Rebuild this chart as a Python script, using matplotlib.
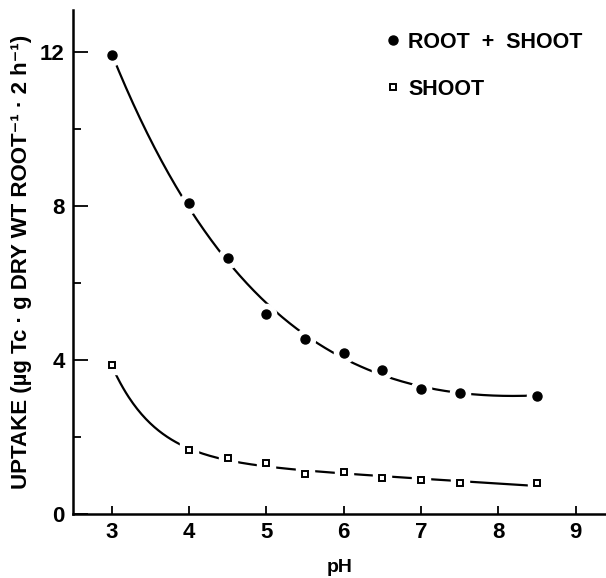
"""pH dependence of Tc uptake: root+shoot vs shoot."""

import matplotlib
matplotlib.use("Agg")
import matplotlib.pyplot as plt
from matplotlib.lines import Line2D
import numpy as np

ph = [3, 4, 4.5, 5, 5.5, 6, 6.5, 7, 7.5, 8.5]
root_shoot = [11.92, 8.09, 6.64, 5.2, 4.55, 4.19, 3.75, 3.25, 3.13, 3.07]
shoot = [3.86, 1.65, 1.45, 1.33, 1.05, 1.10, 0.94, 0.88, 0.80, 0.80]

x_ticks = [3, 4, 5, 6, 7, 8, 9]
y_ticks = [0, 4, 8, 12]
y_minor = [2, 6, 10]


def smooth_fit(x, y):
    # y = a + b*exp(-k*(x-3)) + c*(x-3); k by grid search, rest least squares
    x = np.asarray(x, float)
    y = np.asarray(y, float)
    best = None
    for k in np.linspace(0.1, 4, 400):
        A = np.column_stack([np.ones_like(x), np.exp(-k * (x - 3)), x - 3])
        coef, *_ = np.linalg.lstsq(A, y, rcond=None)
        err = np.sum((A @ coef - y) ** 2)
        if best is None or err < best[0]:
            best = (err, k, coef)
    _, k, (a, b, c) = best
    xs = np.linspace(x.min(), x.max(), 300)
    return xs, a + b * np.exp(-k * (xs - 3)) + c * (xs - 3)


plt.rcParams["font.family"] = ["Liberation Sans", "DejaVu Sans"]
plt.rcParams["font.weight"] = "bold"

fig = plt.figure(figsize=(6.06, 5.78), dpi=100)
ax = fig.add_axes([0.1205, 0.1107, 0.8795, 0.872])

for y, mk, ms in [(root_shoot, "o", 6.5), (shoot, "s", 5)]:
    xs, ys = smooth_fit(ph, y)
    ax.plot(xs, ys, color="black", lw=1.6, zorder=2)
    # white halo breaks the curve around each point
    ax.plot(ph, y, ls="none", marker=mk, ms=ms + 8, mfc="white", mec="white", zorder=3)
    if mk == "o":
        ax.plot(ph, y, ls="none", marker="o", ms=ms, mfc="black", mec="black", zorder=4)
    else:
        ax.plot(ph, y, ls="none", marker="s", ms=ms, mfc="white", mec="black",
                mew=1.4, zorder=4)

ax.set_xlim(2.5, 9.39)
ax.set_ylim(0, 13.09)
ax.set_xticks(x_ticks)
ax.set_yticks(y_ticks)
ax.set_yticks(y_minor, minor=True)
ax.tick_params(axis="x", direction="in", length=6, width=1.3, pad=6, labelsize=16)
ax.tick_params(axis="y", which="major", direction="in", length=11, width=1.3, pad=6,
               labelsize=16)
ax.tick_params(axis="y", which="minor", direction="in", length=6, width=1.3)
for lab in ax.get_xticklabels() + ax.get_yticklabels():
    lab.set_fontweight("bold")

for s in ["top", "right"]:
    ax.spines[s].set_visible(False)
for s in ["left", "bottom"]:
    ax.spines[s].set_linewidth(1.8)

ax.set_xlabel("pH", fontsize=14, fontweight="bold", labelpad=11)
ax.set_ylabel("UPTAKE (\u00b5g Tc \u00b7 g DRY WT ROOT\u207b\u00b9 \u00b7 2 h\u207b\u00b9)",
              fontsize=16, fontweight="bold", labelpad=6)

handles = [
    Line2D([], [], ls="none", marker="o", ms=6.5, mfc="black", mec="black"),
    Line2D([], [], ls="none", marker="s", ms=5, mfc="white", mec="black", mew=1.4),
]
ax.legend(handles, ["ROOT  +  SHOOT", "SHOOT"], loc="upper left",
          bbox_to_anchor=(0.552, 0.995), frameon=False, handlelength=0.6,
          handletextpad=0.4, labelspacing=1.2, prop={"size": 15.5, "weight": "bold"})

fig.savefig("out.png", dpi=100)
